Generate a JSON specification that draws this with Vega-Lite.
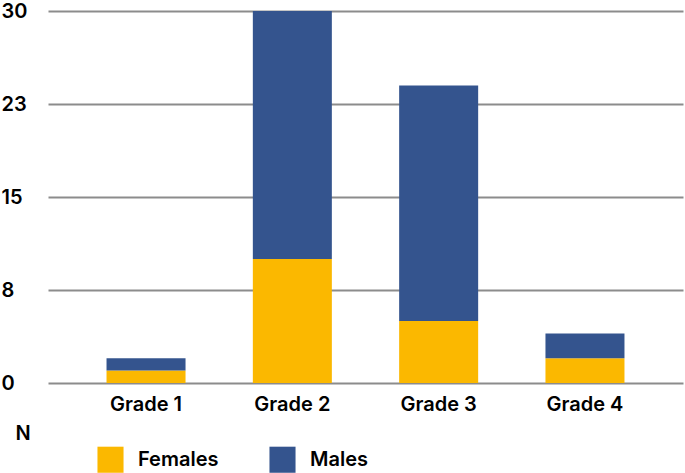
{
  "$schema": "https://vega.github.io/schema/vega-lite/v6.json",
  "width": 635,
  "height": 372,
  "autosize": {"type": "none"},
  "padding": {"left": 48, "top": 11, "right": 2, "bottom": 90},
  "background": "white",
  "config": {
    "font": "Inter",
    "view": {"stroke": null},
    "axis": {"labelFont": "Inter", "titleFont": "Inter", "labelFontWeight": 600, "labelColor": "#000000"},
    "legend": {"labelFont": "Inter", "labelFontWeight": 600}
  },
  "data": {
    "values": [
      {"grade": "Grade 1", "sex": "Females", "n": 1},
      {"grade": "Grade 1", "sex": "Males", "n": 1},
      {"grade": "Grade 2", "sex": "Females", "n": 10},
      {"grade": "Grade 2", "sex": "Males", "n": 20},
      {"grade": "Grade 3", "sex": "Females", "n": 5},
      {"grade": "Grade 3", "sex": "Males", "n": 19},
      {"grade": "Grade 4", "sex": "Females", "n": 2},
      {"grade": "Grade 4", "sex": "Males", "n": 2}
    ]
  },
  "mark": {"type": "bar"},
  "encoding": {
    "x": {
      "field": "grade",
      "type": "nominal",
      "scale": {"paddingInner": 0.46, "paddingOuter": 0.4},
      "axis": {
        "title": null,
        "labelAngle": 0,
        "domain": false,
        "ticks": false,
        "tickSize": 0,
        "labelPadding": 11,
        "labelFontSize": 20
      }
    },
    "y": {
      "field": "n",
      "type": "quantitative",
      "stack": "zero",
      "scale": {"domain": [0, 30], "nice": false},
      "axis": {
        "values": [0, 7.5, 15, 22.5, 30],
        "format": ".0f",
        "grid": true,
        "gridColor": "#8c8c8c",
        "gridWidth": 2,
        "domain": false,
        "ticks": false,
        "tickSize": 0,
        "labelAlign": "left",
        "labelBaseline": "middle",
        "labelPadding": 47,
        "labelFontSize": 20,
        "title": "N",
        "titleAngle": 0,
        "titleX": -33,
        "titleY": 428,
        "titleAlign": "left",
        "titleBaseline": "alphabetic",
        "titleFontSize": 20,
        "titleFontWeight": 600,
        "titleColor": "#000000"
      }
    },
    "color": {
      "field": "sex",
      "type": "nominal",
      "scale": {"domain": ["Females", "Males"], "range": ["#FBB800", "#34548E"]},
      "legend": {
        "title": null,
        "orient": "none",
        "direction": "horizontal",
        "legendX": 49,
        "legendY": 435,
        "symbolType": "square",
        "symbolSize": 680,
        "symbolStrokeWidth": 0,
        "labelFontSize": 20,
        "labelColor": "#000000",
        "labelOffset": 14,
        "columnPadding": 50,
        "padding": 0
      }
    },
    "order": {"field": "sex", "sort": "ascending"}
  }
}
